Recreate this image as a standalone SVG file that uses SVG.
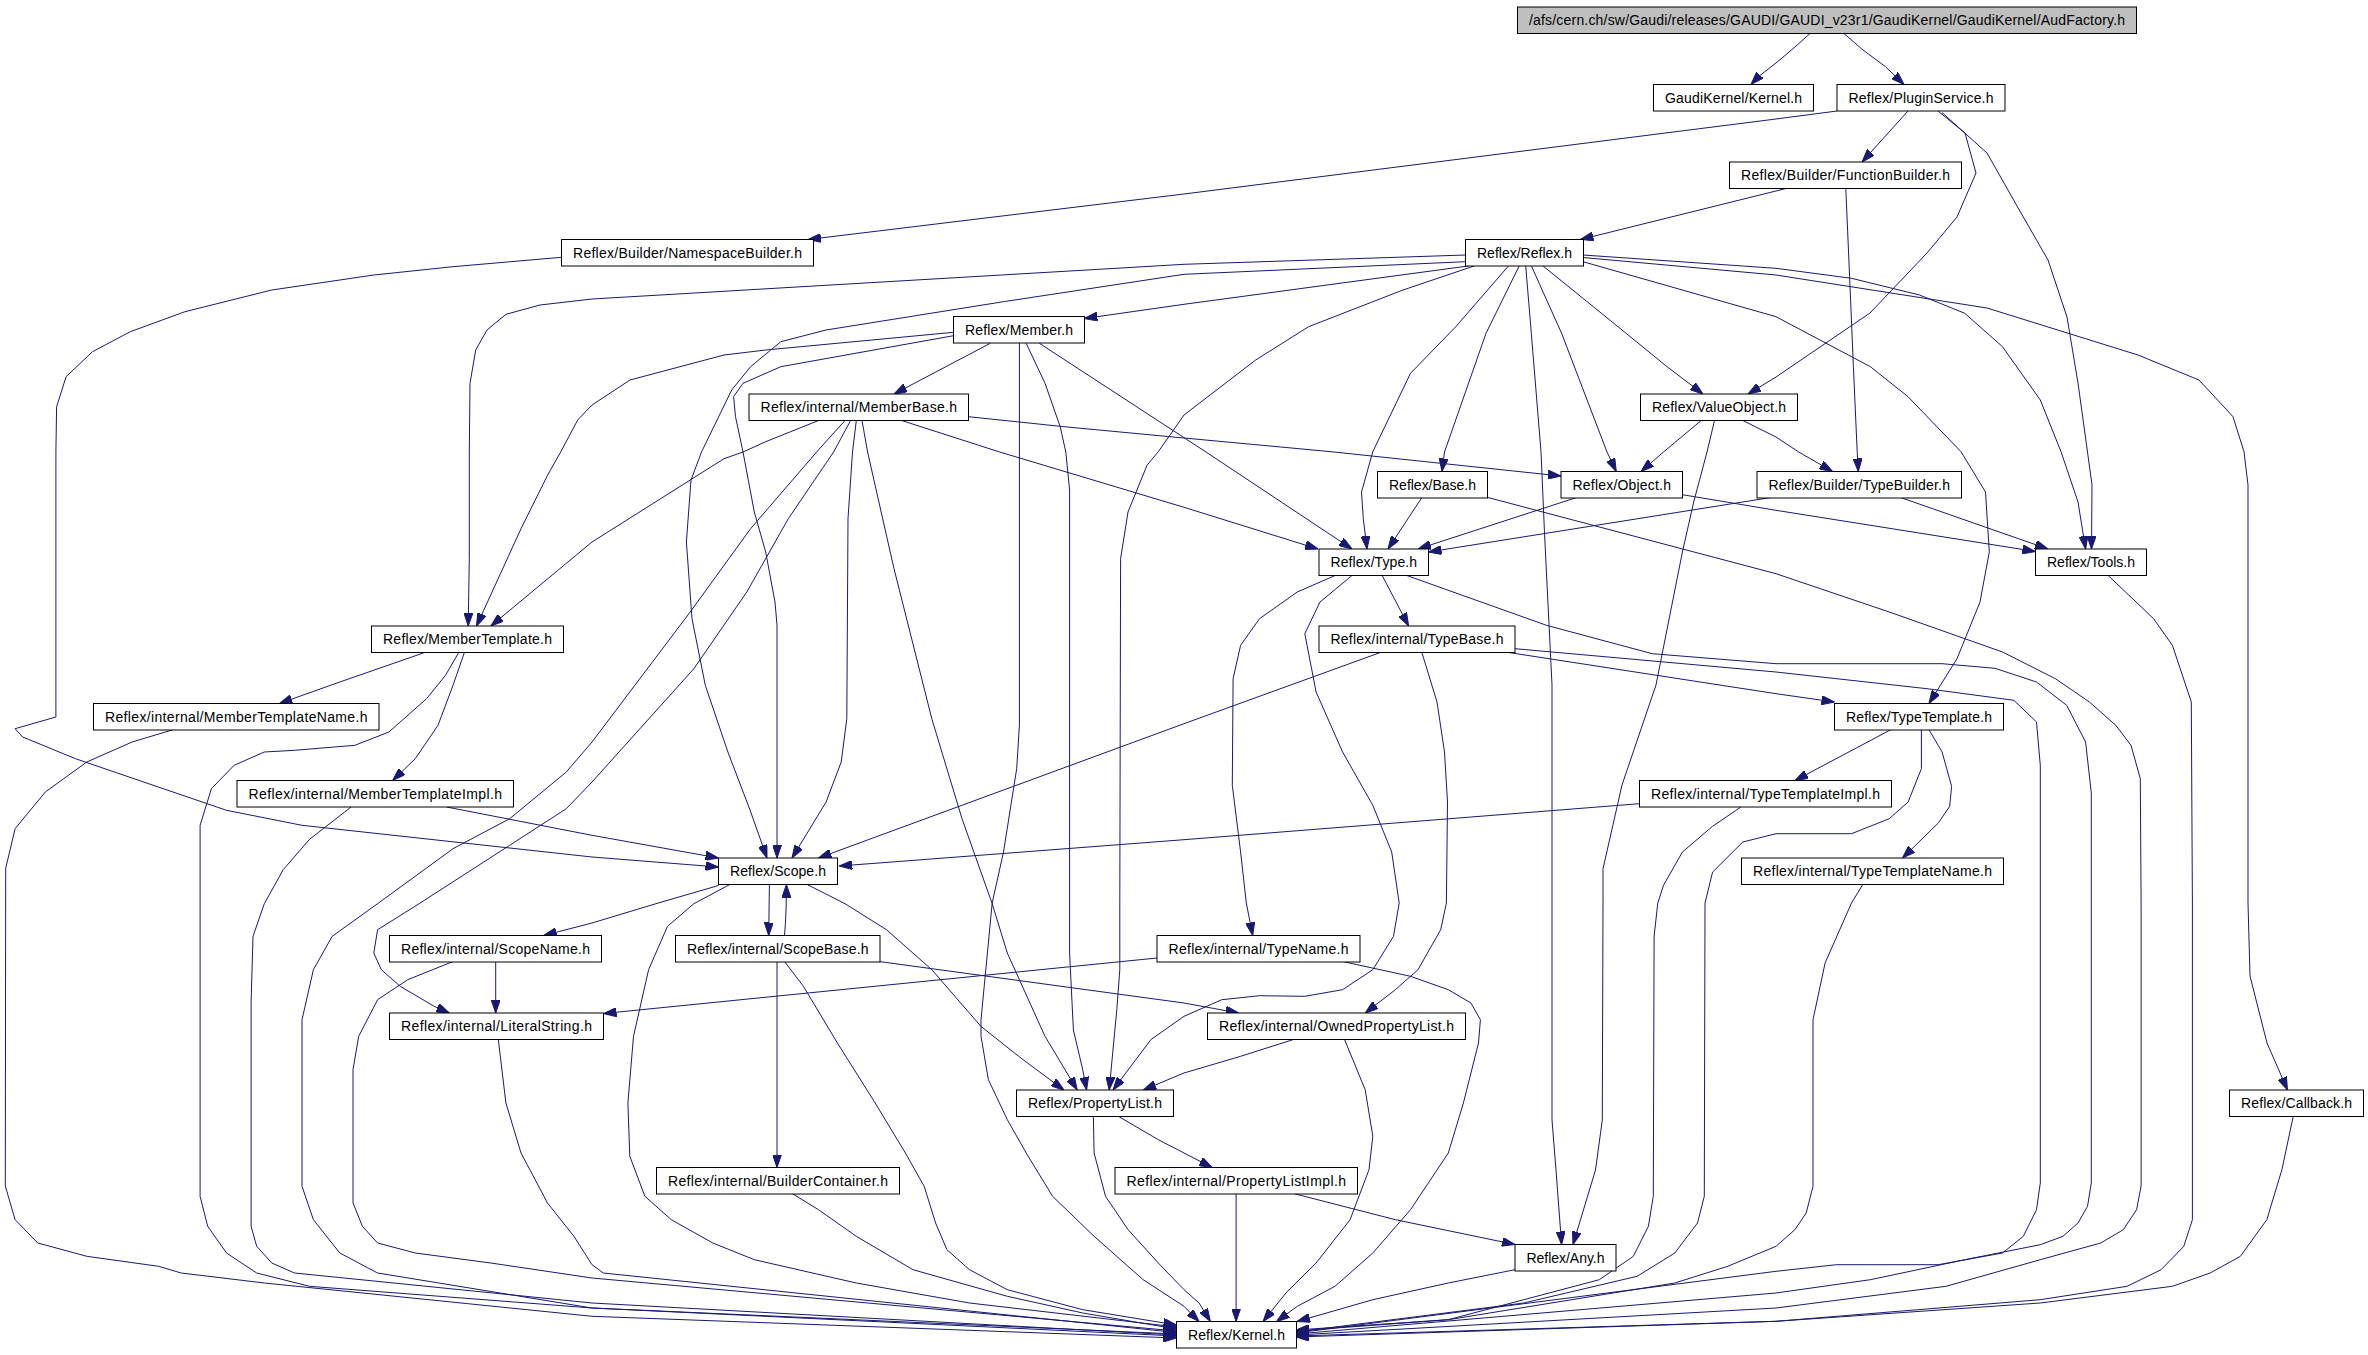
<svg xmlns="http://www.w3.org/2000/svg" width="2368" height="1355" viewBox="0 0 2368 1355">
<style>
.n rect{fill:#ffffff;stroke:#000000;stroke-width:1}
.n.root rect{fill:#bfbfbf}
.n text{font-family:"Liberation Sans",Arial,sans-serif;font-size:14px;fill:#000000;text-anchor:middle}
.e{fill:none;stroke:#191970;stroke-width:1;stroke-linejoin:round;marker-end:url(#a)}
</style>
<defs>
<marker id="a" markerWidth="13" markerHeight="9" refX="13" refY="4.5" orient="auto" markerUnits="userSpaceOnUse"><path d="M0,0 L13,4.5 L0,9 z" fill="#191970" stroke="#191970" stroke-width="1"/></marker>
</defs>
<rect width="2368" height="1355" fill="#ffffff"/>
<g id="edges">
<path class="e" d="M1810,33.5 L1795,47 L1776,63 L1758,77 L1751,84.5"/>
<path class="e" d="M1844,33.5 L1863,50 L1885.5,66.7 L1904,84.5"/>
<path class="e" d="M1837,111 L1776,119 L1184,194 L808,239.5"/>
<path class="e" d="M1908,111 L1862,162"/>
<path class="e" d="M1938,111 L1965,133 L1976,173 L1957,217 L1927,253 L1870,313 L1776,377 L1748,394"/>
<path class="e" d="M1942,112.5 L1987,153 L2021,213 L2048,260 L2067,317 L2078,383 L2087.5,452 L2092,485 L2091.5,549"/>
<path class="e" d="M1583,255 L1776,268.3 L1851.5,278.3 L1919.5,295 L1964.8,313.3 L2002.5,346.7 L2040.3,400 L2061,451.7 L2078,502 L2085.6,549"/>
<path class="e" d="M1583,257.5 L1776,275 L1987,308 L2138,355 L2199,380 L2233,416.7 L2244,451.7 L2248,485 L2248,903 L2250,976 L2267,1043 L2287.5,1090"/>
<path class="e" d="M1583,261.7 L1776,316.7 L1870.4,366.7 L1908,396.7 L1961,451.7 L1985.5,492 L1989.3,552 L1980,602 L1957,658.7 L1929,703.5"/>
<path class="e" d="M1542.7,265.7 L1618,326.7 L1667,366.7 L1703,394"/>
<path class="e" d="M1531.3,265.7 L1561.6,333.3 L1607,452 L1616.3,471.5"/>
<path class="e" d="M1525.7,265.7 L1531.3,333.3 L1541,451.7 L1544.6,535 L1552,685 L1552,1120 L1556,1170 L1561.6,1244.5"/>
<path class="e" d="M1519.3,265.7 L1486,333.3 L1444.5,452 L1442,471.5"/>
<path class="e" d="M1508.7,265.7 L1455.8,326.7 L1410.5,373.3 L1372.8,451.7 L1361.5,492 L1363.3,518.7 L1367,549"/>
<path class="e" d="M1474,266 L1403,290 L1308.6,326.7 L1255.7,360 L1184,415 L1158.3,451.7 L1147,465.3 L1128,512 L1120.6,558.7 L1119.8,903 L1119.8,969.7 L1116.8,1009.7 L1109.2,1090"/>
<path class="e" d="M1468,266 L1184,304.3 L1084.3,318.5"/>
<path class="e" d="M1465.5,261.7 L1184,274.3 L1003.5,301.7 L826,330 L780.8,341.7 L750.6,366.7 L731.7,390 L701.5,452 L691,480 L686.4,542 L692,618.7 L705.3,685.3 L727.9,752 L750,810 L767,858"/>
<path class="e" d="M1465.5,255 L1184,264.3 L592,299 L540,305 L506,314.3 L487,330 L475.7,350 L470,383.3 L469.3,452 L469.3,558.7 L468.2,626"/>
<path class="e" d="M953.5,332.3 L765.7,350 L724,355 L630,380 L592,405 L577.7,420 L560.7,452 L547.5,475.3 L521,528.7 L476.5,626"/>
<path class="e" d="M953.5,335.7 L780.8,366.7 L743,383.3 L733.6,396.7 L735.5,416.7 L743,452 L754.3,512 L765.7,552 L775,602 L777,625 L777,858"/>
<path class="e" d="M990.3,343.3 L894,394"/>
<path class="e" d="M1019.4,343 L1019.4,725 L1016.7,768.7 L1003.5,852 L992.2,903 L981,1019.7 L981,1036.3 L988.4,1079.7 L1007.3,1119.7 L1026.2,1153 L1052.6,1196.3 L1094.1,1236.3 L1143.2,1279.7 L1184,1306.3 L1199,1321.5"/>
<path class="e" d="M1026.2,343.3 L1045,383.3 L1060.2,426.7 L1065.8,452 L1069.6,490 L1069.6,953 L1073.4,1030 L1082.8,1070 L1086.6,1090"/>
<path class="e" d="M1039.4,343.3 L1206,452 L1352,549"/>
<path class="e" d="M818.5,420.5 L765.7,441.7 L743,452 L724,458.7 L592,542 L490.8,626"/>
<path class="e" d="M845,420.5 L816.6,452 L750.6,528.7 L690.2,612 L592,742 L566.3,772 L509.7,818.7 L453,848.7 L377.6,903.7 L332.2,936.3 L313.4,969.7 L302,1019.7 L302,1186.3 L313.4,1219.7 L339.8,1253 L377.6,1273 L592,1308 L1176.5,1334"/>
<path class="e" d="M850.6,420.5 L833.6,452 L788.3,518.7 L746.8,592 L693.9,668.7 L592,782 L566.3,808.7 L509.7,845.3 L419.1,903.7 L377.6,929.7 L373.8,953 L381.3,969.7 L400.2,986.3 L434.2,1006.3 L449.3,1013"/>
<path class="e" d="M856.3,420.5 L852.5,452 L848,518.7 L846.8,718.7 L841.2,762 L826.1,802 L792,858"/>
<path class="e" d="M862,420.5 L867.6,452 L894,568.7 L931.8,718.7 L962,818.7 L992.2,903.7 L1007.3,953 L1045,1036.3 L1077.2,1090"/>
<path class="e" d="M901.6,420.5 L999.7,452 L1184,507.3 L1318,549"/>
<path class="e" d="M968.5,416.7 L1064,426.7 L1184,438 L1331,451.7 L1561,476"/>
<path class="e" d="M1786,188.5 L1580.5,239.5"/>
<path class="e" d="M1845.8,188.5 L1849.6,276.7 L1853.4,366.7 L1857.2,451.7 L1858.3,471.5"/>
<path class="e" d="M1701.2,420.5 L1663.5,452 L1641,471.5"/>
<path class="e" d="M1714.5,420.5 L1707,452 L1693.7,502 L1682.4,552 L1656,685 L1622,785 L1603,868.7 L1603,903 L1602.3,1120 L1595.5,1170 L1573,1244.5"/>
<path class="e" d="M1742.8,420.5 L1776,437 L1798.7,452 L1832.6,471.5"/>
<path class="e" d="M1421.9,497.5 L1388,549"/>
<path class="e" d="M1487.9,497.5 L1776,573.7 L1889.3,612 L2002.5,652 L2055.4,678.7 L2089.4,702 L2115.8,725.3 L2131,745.3 L2140.3,778.7 L2141.1,903 L2141.1,1186 L2136.6,1209.7 L2123.3,1229.7 L2100.7,1243 L2040.3,1259.7 L1946,1286.3 L1776,1308 L1296,1335"/>
<path class="e" d="M1576.6,497.5 L1418,549"/>
<path class="e" d="M1682.4,494.7 L1776,510.3 L2035.5,551.5"/>
<path class="e" d="M1771,497.5 L1428.5,552"/>
<path class="e" d="M1900.6,497.5 L2048,549"/>
<path class="e" d="M2108.2,575.5 L2153.6,618.7 L2172.4,645.3 L2191.3,702 L2192.4,903 L2192.4,1219.7 L2183.8,1246.3 L2161.1,1269.7 L2127.1,1286.3 L2040.3,1299.7 L1776,1321.3 L1296,1336"/>
<path class="e" d="M1382.2,575.5 L1403,615.3 L1408.6,626"/>
<path class="e" d="M1335,575.5 L1297.3,592 L1259.5,618.7 L1240.6,645.3 L1233.1,678.7 L1232.3,785.3 L1240.6,852 L1246.3,903 L1252.7,935.5"/>
<path class="e" d="M1352,575.5 L1320,602 L1304.8,633.7 L1316.1,692 L1342.6,752 L1372.8,805.3 L1391.7,852 L1399.2,903 L1393.5,936.3 L1372.8,969.7 L1342.6,989.7 L1304.8,996.3 L1259.5,995.7 L1221.8,999.7 L1184,1016.3 L1150.8,1039.7 L1113,1090"/>
<path class="e" d="M1406.8,575.5 L1546.5,625.3 L1652.2,653.7 L1776,663.7 L1942,663.7 L1995,668.3 L2036.5,682 L2066.7,705.3 L2085.6,742 L2091.3,793 L2091.3,1183 L2087.5,1206.3 L2078,1223 L2063,1236.3 L2040.3,1244.7 L1964.8,1259.7 L1870.4,1279.7 L1776,1293 L1296,1334"/>
<path class="e" d="M1380.3,652.5 L1184,723.7 L818.5,858"/>
<path class="e" d="M1421.9,652.5 L1437,702 L1444.5,752 L1447.5,802 L1446.4,903 L1440.7,929.7 L1418,969.7 L1395.4,989.7 L1365.2,1013"/>
<path class="e" d="M1508.7,652.5 L1776,693.7 L1834.5,702"/>
<path class="e" d="M1515,648.7 L1776,672 L1927,688.7 L2013.9,700.3 L2036.5,722 L2040.3,765.3 L2040.3,1183 L2036.5,1209.7 L2023.3,1236.3 L2002.5,1253 L1938.3,1264.7 L1836.4,1264.7 L1776,1271.3 L1296,1333"/>
<path class="e" d="M424.7,652.5 L339.8,682 L279.4,703.5"/>
<path class="e" d="M464.4,652.5 L453,685.3 L438,725.3 L415.3,758.7 L392.7,780.5"/>
<path class="e" d="M458.7,652.5 L445.5,675.3 L426.6,698.7 L388.9,732 L354.9,745.3 L294.5,750.3 L264.3,752 L234.1,765.3 L211.4,788.7 L200.1,825.3 L200.1,1196.3 L207.7,1226.3 L226.5,1253 L256.7,1273 L309.6,1286.3 L592,1308 L1176.5,1336"/>
<path class="e" d="M173.7,729.5 L132.1,742 L86.8,762 L45.3,792 L15.1,828.7 L5.7,868.3 L5.3,1186 L15.1,1219.7 L37.8,1243 L86.8,1256.3 L158.6,1266.3 L181.2,1273 L264.3,1283 L592,1316.3 L1176.5,1338"/>
<path class="e" d="M446.6,807 L592,835.3 L718.5,858"/>
<path class="e" d="M351.1,807 L309.6,839.3 L283.2,869.7 L264.3,903.7 L253,936.3 L251.1,1003 L251.1,1226.3 L256.7,1246.3 L271.8,1263 L294.5,1273 L592,1303 L1176.5,1335"/>
<path class="e" d="M1891.2,729.5 L1795,780.5"/>
<path class="e" d="M1928.9,729.5 L1942.1,752 L1951.6,786.3 L1949.7,806.3 L1938.3,823 L1902.5,858"/>
<path class="e" d="M1921.4,729.5 L1921.4,768.7 L1908.1,802 L1889.3,818.7 L1851.5,833.7 L1776,833.7 L1742.8,842 L1712.6,872 L1705,903 L1704.3,1196.3 L1697.5,1223 L1674.8,1253 L1637.1,1276.3 L1523.8,1303 L1296,1332"/>
<path class="e" d="M1639.5,803.7 L1184,839.7 L839.3,866"/>
<path class="e" d="M1740.9,807 L1712.6,826.3 L1682.4,852 L1663.5,885.3 L1657.8,903 L1654.1,936.3 L1653.3,1196.3 L1648.4,1226.3 L1633.3,1256.3 L1599.3,1279.7 L1448.3,1319.7 L1296,1331"/>
<path class="e" d="M1862.8,884.5 L1851.5,903 L1825.1,963 L1813,1019.7 L1813,1186.3 L1806.2,1213 L1794.9,1229.7 L1776,1246.3 L1727.7,1266.3 L1674.8,1283 L1448.3,1319.7 L1296,1330"/>
<path class="e" d="M718.5,885.5 L656,903.7 L592,923 L543.7,935.5"/>
<path class="e" d="M729.8,884.5 L693.9,903.7 L667.5,926.3 L648.6,969.7 L633.5,1036.3 L627.9,1103 L629.8,1156.3 L644.9,1196.3 L671.3,1219.7 L712.8,1243 L754.3,1259.7 L856.3,1283 L969.5,1303 L1176.5,1327"/>
<path class="e" d="M769.4,884.5 L768.7,935.5"/>
<path class="e" d="M807.2,884.5 L845,903.7 L886.5,929.7 L931.8,969.7 L980.9,1026.3 L1018.6,1056.3 L1063.9,1090"/>
<path class="e" d="M784.5,935.5 C786,920 786.4,900 786.4,884.5"/>
<path class="e" d="M777,961.5 L777,1167.5"/>
<path class="e" d="M879,961.5 L1184,1003 L1238.7,1013"/>
<path class="e" d="M784.5,961.5 L803.4,986.3 L837.4,1043 L875.2,1103 L905.4,1153 L924.2,1186.3 L935.6,1223 L946.9,1249.7 L969.5,1269.7 L1007.3,1289.7 L1082.8,1309.7 L1176.5,1325"/>
<path class="e" d="M495.7,961.5 L495.7,1013"/>
<path class="e" d="M453,961.5 L407.7,979.7 L377.6,999.7 L358.7,1036.3 L353,1069.7 L353,1203 L362.4,1226.3 L377.6,1243 L415.3,1253 L490.8,1263 L592,1278 L1176.5,1331"/>
<path class="e" d="M1157,958 L603.5,1013.5"/>
<path class="e" d="M1342.6,961.5 L1410.5,976.3 L1448.3,989.7 L1470.9,1003 L1480.4,1019.7 L1478.5,1043 L1463.4,1103 L1448.3,1153 L1410.5,1209.7 L1372.8,1253 L1335,1286.3 L1297.3,1306.3 L1276.5,1321.5"/>
<path class="e" d="M498.3,1039.5 L505.9,1103 L521,1153 L547.5,1203 L573.9,1236.3 L592,1264.7 L603.3,1273 L1176.5,1332.5"/>
<path class="e" d="M1293.5,1039.5 L1240.6,1056.3 L1184,1073 L1143.2,1090"/>
<path class="e" d="M1344.5,1039.5 L1365.2,1089.7 L1372.8,1136.3 L1369,1169.7 L1350.1,1219.7 L1316.1,1263 L1285.9,1293 L1263,1321.5"/>
<path class="e" d="M1118.7,1116.5 L1158.3,1139.7 L1184,1153 L1212.3,1167.5"/>
<path class="e" d="M1093.4,1116.5 L1094.1,1153 L1105.5,1196.3 L1128.1,1229.7 L1158.3,1263 L1184,1289.7 L1199.1,1303 L1210.4,1321.5"/>
<path class="e" d="M2293.2,1116.5 L2281.9,1169.7 L2266.8,1219.7 L2240.4,1256.3 L2210.2,1273 L2172.4,1286.3 L2040.3,1303 L1776,1321.3 L1296,1337"/>
<path class="e" d="M792.1,1193.5 L818.5,1209.7 L856.3,1236.3 L912.9,1269.7 L1007.3,1296.3 L1082.8,1313 L1176.5,1329"/>
<path class="e" d="M1236.1,1193.5 L1236.1,1321.5"/>
<path class="e" d="M1293.5,1193.5 L1395.4,1219.7 L1515,1244.5"/>
<path class="e" d="M1515,1269.7 L1448.3,1283 L1372.8,1299.7 L1297,1321.5"/>
<path class="e" d="M561.5,257.3 L453,266.7 L373.8,275 L271.8,290 L185,311.7 L130.3,331.7 L92.5,351.7 L66.1,376.7 L56.6,406.7 L55.9,452 L55.9,717 L15.1,728.7 L22.7,737 L75.5,758.7 L226.5,810.3 L302,825.3 L592,857 L718.5,867"/>
</g>
<g id="n0" class="n root"><rect x="1517.5" y="7" width="619" height="26.5"/><text x="1827" y="25" textLength="596">/afs/cern.ch/sw/Gaudi/releases/GAUDI/GAUDI_v23r1/GaudiKernel/GaudiKernel/AudFactory.h</text></g>
<g id="n1" class="n"><rect x="1653.5" y="84.5" width="160" height="26.5"/><text x="1733.5" y="102.5" textLength="137">GaudiKernel/Kernel.h</text></g>
<g id="n2" class="n"><rect x="1837" y="84.5" width="168" height="26.5"/><text x="1921" y="102.5" textLength="145">Reflex/PluginService.h</text></g>
<g id="n3" class="n"><rect x="1729.5" y="162" width="232" height="26.5"/><text x="1845.5" y="180" textLength="209">Reflex/Builder/FunctionBuilder.h</text></g>
<g id="n4" class="n"><rect x="561.5" y="239.5" width="252" height="26.5"/><text x="687.5" y="257.5" textLength="229">Reflex/Builder/NamespaceBuilder.h</text></g>
<g id="n5" class="n"><rect x="1465.5" y="239.5" width="118" height="26.5"/><text x="1524.5" y="257.5" textLength="95">Reflex/Reflex.h</text></g>
<g id="n6" class="n"><rect x="953.5" y="316.5" width="131" height="26.5"/><text x="1019" y="334.5" textLength="108">Reflex/Member.h</text></g>
<g id="n7" class="n"><rect x="749" y="394" width="219.5" height="26.5"/><text x="858.75" y="412" textLength="196.5">Reflex/internal/MemberBase.h</text></g>
<g id="n8" class="n"><rect x="1640.5" y="394" width="157" height="26.5"/><text x="1719" y="412" textLength="134">Reflex/ValueObject.h</text></g>
<g id="n9" class="n"><rect x="1377.5" y="471.5" width="110" height="26.5"/><text x="1432.5" y="489.5" textLength="87">Reflex/Base.h</text></g>
<g id="n10" class="n"><rect x="1561" y="471.5" width="121.5" height="26.5"/><text x="1621.75" y="489.5" textLength="98.5">Reflex/Object.h</text></g>
<g id="n11" class="n"><rect x="1757" y="471.5" width="204.5" height="26.5"/><text x="1859.25" y="489.5" textLength="181.5">Reflex/Builder/TypeBuilder.h</text></g>
<g id="n12" class="n"><rect x="2035.5" y="549" width="111" height="26.5"/><text x="2091" y="567" textLength="88">Reflex/Tools.h</text></g>
<g id="n13" class="n"><rect x="1319" y="549" width="109.5" height="26.5"/><text x="1373.75" y="567" textLength="86.5">Reflex/Type.h</text></g>
<g id="n14" class="n"><rect x="1319" y="626" width="196" height="26.5"/><text x="1417" y="644" textLength="173">Reflex/internal/TypeBase.h</text></g>
<g id="n15" class="n"><rect x="371.5" y="626" width="192" height="26.5"/><text x="467.5" y="644" textLength="169">Reflex/MemberTemplate.h</text></g>
<g id="n16" class="n"><rect x="93.5" y="703.5" width="285.5" height="26.5"/><text x="236.25" y="721.5" textLength="262.5">Reflex/internal/MemberTemplateName.h</text></g>
<g id="n17" class="n"><rect x="237" y="780.5" width="276.5" height="26.5"/><text x="375.25" y="798.5" textLength="253.5">Reflex/internal/MemberTemplateImpl.h</text></g>
<g id="n18" class="n"><rect x="1834.5" y="703.5" width="169" height="26.5"/><text x="1919" y="721.5" textLength="146">Reflex/TypeTemplate.h</text></g>
<g id="n19" class="n"><rect x="1639.5" y="780.5" width="252" height="26.5"/><text x="1765.5" y="798.5" textLength="229">Reflex/internal/TypeTemplateImpl.h</text></g>
<g id="n20" class="n"><rect x="1741.5" y="858" width="262" height="26.5"/><text x="1872.5" y="876" textLength="239">Reflex/internal/TypeTemplateName.h</text></g>
<g id="n21" class="n"><rect x="718.5" y="858" width="119" height="26.5"/><text x="778" y="876" textLength="96">Reflex/Scope.h</text></g>
<g id="n22" class="n"><rect x="389.5" y="935.5" width="212" height="26.5"/><text x="495.5" y="953.5" textLength="189">Reflex/internal/ScopeName.h</text></g>
<g id="n23" class="n"><rect x="675.5" y="935.5" width="204.5" height="26.5"/><text x="777.75" y="953.5" textLength="181.5">Reflex/internal/ScopeBase.h</text></g>
<g id="n24" class="n"><rect x="1157" y="935.5" width="203" height="26.5"/><text x="1258.5" y="953.5" textLength="180">Reflex/internal/TypeName.h</text></g>
<g id="n25" class="n"><rect x="389.5" y="1013" width="214" height="26.5"/><text x="496.5" y="1031" textLength="191">Reflex/internal/LiteralString.h</text></g>
<g id="n26" class="n"><rect x="1207.5" y="1013" width="258" height="26.5"/><text x="1336.5" y="1031" textLength="235">Reflex/internal/OwnedPropertyList.h</text></g>
<g id="n27" class="n"><rect x="1016.5" y="1090" width="157" height="26.5"/><text x="1095" y="1108" textLength="134">Reflex/PropertyList.h</text></g>
<g id="n28" class="n"><rect x="2229.5" y="1090" width="134" height="26.5"/><text x="2296.5" y="1108" textLength="111">Reflex/Callback.h</text></g>
<g id="n29" class="n"><rect x="656.5" y="1167.5" width="243" height="26.5"/><text x="778" y="1185.5" textLength="220">Reflex/internal/BuilderContainer.h</text></g>
<g id="n30" class="n"><rect x="1115" y="1167.5" width="242.5" height="26.5"/><text x="1236.25" y="1185.5" textLength="219.5">Reflex/internal/PropertyListImpl.h</text></g>
<g id="n31" class="n"><rect x="1515" y="1244.5" width="101" height="26.5"/><text x="1565.5" y="1262.5" textLength="78">Reflex/Any.h</text></g>
<g id="n32" class="n"><rect x="1176.5" y="1321.5" width="120" height="26.5"/><text x="1236.5" y="1339.5" textLength="97">Reflex/Kernel.h</text></g>
</svg>
